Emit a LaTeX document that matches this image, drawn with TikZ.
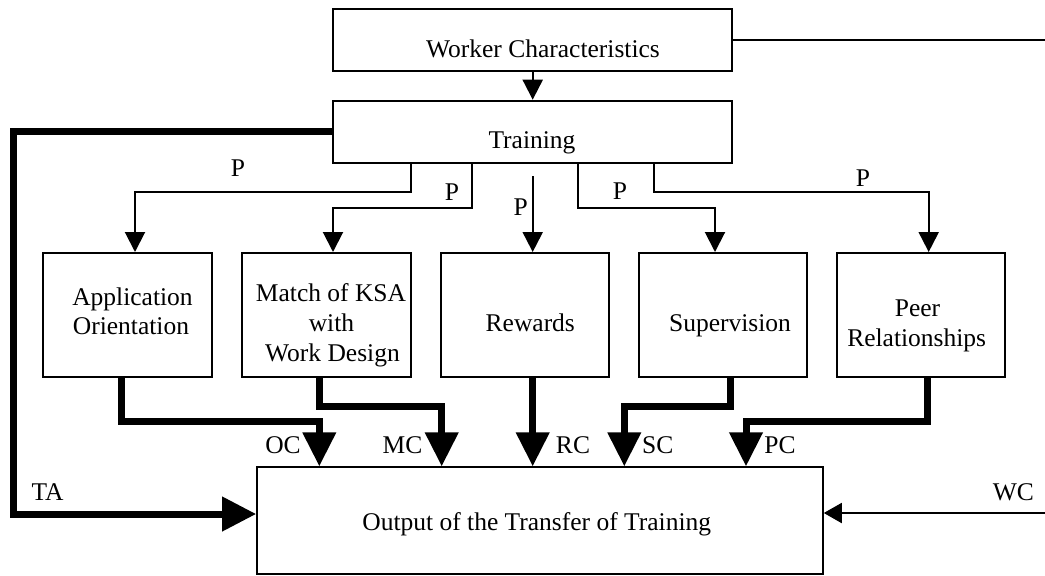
\documentclass[tikz,border=0pt]{standalone}
\usepackage{fontspec}
\setmainfont{Liberation Serif}
\usetikzlibrary{arrows.meta}
\begin{document}
\begin{tikzpicture}[x=0.5pt,y=-0.5pt,
  box/.style={draw,line width=1pt,inner sep=0pt,minimum height=61.8pt},
  midbox/.style={box,minimum width=84.3pt},
  txt/.style={anchor=base,inner sep=0pt,font=\fontsize{12.75pt}{14.75pt}\selectfont},
  thinarrow/.style={line width=1pt,-{Triangle[length=10pt,width=10pt]}},
  thickarrow/.style={line width=3.5pt,line join=miter,-{Triangle[length=17pt,width=16pt]}},
  thinline/.style={line width=1pt}]
\useasboundingbox (0,0) rectangle (1045,575);

% boxes
\node[box,minimum width=199.3pt,minimum height=30.8pt] (worker) at (532.3,39.8) {};
\node[box,minimum width=199.3pt,minimum height=30.9pt] (train) at (532.3,131.6) {};
\node[midbox] (app)  at (127.5,314.8) {};
\node[midbox] (ksa)  at (326.5,314.8) {};
\node[midbox] (rew)  at (525,314.8) {};
\node[midbox] (sup)  at (723,314.8) {};
\node[midbox] (peer) at (920.8,314.8) {};
\node[box,minimum width=282.8pt,minimum height=53.3pt] (out) at (540,520.7) {};

% box texts
\node[txt] (tworker) at (543,57.3) {Worker Characteristics};
\node[txt] (ttrain)  at (532,148) {Training};
\node[txt] (tapp1) at (132.5,305) {Application};
\node[txt] (tapp2) at (131,334) {Orientation};
\node[txt] (tksa1) at (331,301.7) {Match of KSA};
\node[txt] (tksa2) at (331.5,331.7) {with};
\node[txt] (tksa3) at (332.5,361.7) {Work Design};
\node[txt] (trew)  at (530.3,331.7) {Rewards};
\node[txt] (tsup)  at (730,331.7) {Supervision};
\node[txt] (tpeer1) at (917.5,316.7) {Peer};
\node[txt] (tpeer2) at (916.7,346.7) {Relationships};
\node[txt] (tout) at (536.7,530) {Output of the Transfer of Training};

% worker characteristics feed
\coordinate (wcright) at (1045,39.5);
\coordinate (wcin) at (1045,513);
\draw[thinline] (worker.east |- wcright) -- (wcright);
\draw[line width=1pt,-{Triangle[length=9pt,width=10pt]}] (wcin) -- (out.east |- wcin);
\draw[thinarrow] (worker.south -| 532.7,0) -- (train.north -| 532.7,0);

% training to the five factors
\coordinate (p3start) at (532.7,176);
\draw[thinarrow] (train.south -| 410.7,0) |- (135,192) -- (app.north -| 135,0);
\draw[thinarrow] (train.south -| 471.7,0) |- (333,208) -- (ksa.north -| 333,0);
\draw[thinarrow] (p3start) -- (rew.north -| p3start);
\draw[thinarrow] (train.south -| 578.3,0) |- (715,208) -- (sup.north -| 715,0);
\draw[thinarrow] (train.south -| 654.3,0) |- (928.7,192) -- (peer.north -| 928.7,0);

\node[txt] (lp1) at (238,176.7) {P};
\node[txt] (lp2) at (452,200) {P};
\node[txt] (lp3) at (520.8,215) {P};
\node[txt] (lp4) at (620,199.3) {P};
\node[txt] (lp5) at (863,186) {P};

% factors to output
\draw[thickarrow] (app.south -| 121,0) |- (319.3,421.7) -- (out.north -| 319.3,0);
\draw[thickarrow] (ksa.south -| 319,0) |- (441.7,406.7) -- (out.north -| 441.7,0);
\draw[thickarrow] (rew.south -| 532.7,0) -- (out.north -| 532.7,0);
\draw[thickarrow] (sup.south -| 730.7,0) |- (624.3,406) -- (out.north -| 624.3,0);
\draw[thickarrow] (peer.south -| 927.3,0) |- (746,421.7) -- (out.north -| 746,0);

% training direct path
\draw[line width=3.5pt,line join=miter,-{Triangle[length=17pt,width=16.5pt]}]
  (train.west) -| (13,514) -- (out.west |- 0,514);

\node[txt] (loc) at (283,453.3) {OC};
\node[txt] (lmc) at (402.5,453.3) {MC};
\node[txt] (lrc) at (573,453.3) {RC};
\node[txt] (lsc) at (657.7,453.3) {SC};
\node[txt] (lpc) at (780,453.3) {PC};
\node[txt] (lta) at (47.5,500) {TA};
\node[txt] (lwc) at (1013.3,500) {WC};
\end{tikzpicture}
\end{document}
